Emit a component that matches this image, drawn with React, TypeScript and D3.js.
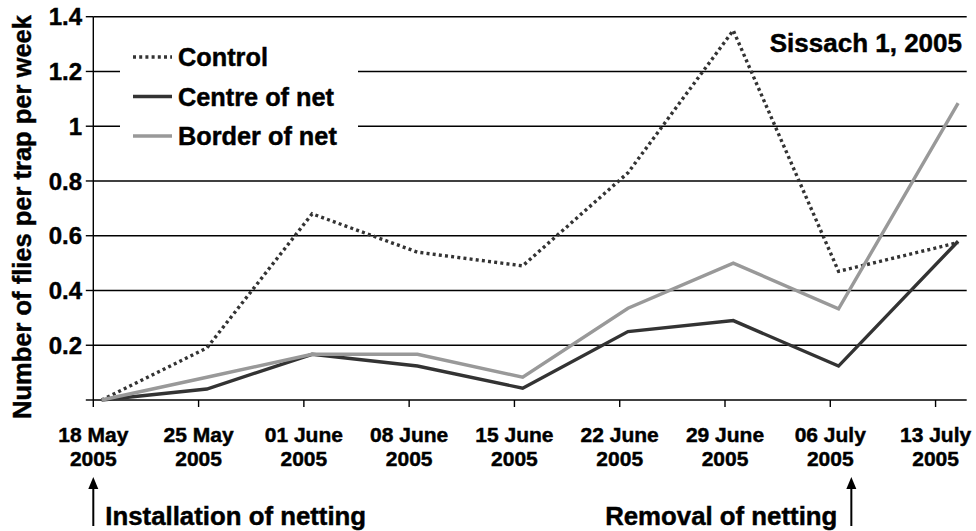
import React from "react";
import * as d3 from "d3";

const tickLabels = [
  ["18 May", "2005"],
  ["25 May", "2005"],
  ["01 June", "2005"],
  ["08 June", "2005"],
  ["15 June", "2005"],
  ["22 June", "2005"],
  ["29 June", "2005"],
  ["06 July", "2005"],
  ["13 July", "2005"],
];
// tick days since 18 May 2005
const tickDays = [0, 7, 14, 21, 28, 35, 42, 49, 56];
// sampling day (days since 18 May 2005) for each point
const sampleDays = [0.55, 7.55, 14.55, 21.55, 28.55, 35.55, 42.55, 49.55, 57.5];

const control = [0, 0.19, 0.68, 0.54, 0.49, 0.83, 1.35, 0.47, 0.575];
const centre = [0, 0.04, 0.167, 0.124, 0.043, 0.25, 0.29, 0.124, 0.58];
const border = [0, 0.083, 0.167, 0.167, 0.083, 0.335, 0.5, 0.333, 1.084];

const yTicks = [0, 0.2, 0.4, 0.6, 0.8, 1.0, 1.2, 1.4];

const series = [
  { name: "Control", values: control, color: "#333333", dash: "3 3.2" },
  { name: "Centre of net", values: centre, color: "#333333", dash: null },
  { name: "Border of net", values: border, color: "#999999", dash: null },
];

const annotations = [
  { label: "Installation of netting", day: 0, side: "right" },
  { label: "Removal of netting", day: 50.4, side: "left" },
];

const FONT = "'Liberation Sans', Arial, sans-serif";

const T = (props: any) => (
  <text fontWeight={700} stroke="#000" strokeWidth={0.45} fill="#000" {...props} />
);

export default function App() {
  const W = 976;
  const H = 531;
  const left = 93.3;
  const right = 966.7;
  const top = 16.7;
  const bottom = 400;

  const x = d3.scaleLinear().domain([0, 58.07]).range([left, right]);
  const y = d3.scaleLinear().domain([0, 1.4]).range([bottom, top]);

  const line = d3
    .line<number>()
    .x((_, i) => x(sampleDays[i]))
    .y((d) => y(d));

  const fmt = (v: number) => (v === 0 ? "" : v === 1 ? "1" : d3.format(".1f")(v));

  const legendX = 133;
  const legendRows = [57, 96.5, 136];

  return (
    <svg
      width={W}
      height={H}
      style={{ position: "absolute", left: 0, top: 0, background: "#fff" }}
      fontFamily={FONT}
    >
      {/* gridlines */}
      {yTicks.filter((t) => t > 0).map((t) => (
        <line key={t} x1={left} x2={right} y1={y(t)} y2={y(t)} stroke="#000" strokeWidth={1.4} />
      ))}
      {/* legend background */}
      <rect x={120} y={29} width={238} height={140} fill="#fff" />
      {/* axes */}
      <line x1={left} x2={left} y1={top} y2={bottom} stroke="#000" strokeWidth={1.4} />
      <line x1={left} x2={right} y1={bottom} y2={bottom} stroke="#000" strokeWidth={1.4} />
      {yTicks.map((t) => (
        <g key={"yt" + t}>
          <line x1={left - 7.5} x2={left} y1={y(t)} y2={y(t)} stroke="#000" strokeWidth={1.4} />
          <T x={82} y={y(t)} dy="0.36em" textAnchor="end" fontSize={24}>
            {fmt(t)}
          </T>
        </g>
      ))}
      {tickDays.map((d, i) => (
        <g key={"xt" + i}>
          <line x1={x(d)} x2={x(d)} y1={bottom} y2={bottom + 7} stroke="#000" strokeWidth={1.4} />
          <T x={x(d)} y={441.5} textAnchor="middle" fontSize={21}>
            {tickLabels[i][0]}
          </T>
          <T x={x(d)} y={466} textAnchor="middle" fontSize={21}>
            {tickLabels[i][1]}
          </T>
        </g>
      ))}
      {/* series */}
      {series.map((s) => (
        <path
          key={s.name}
          d={line(s.values) || ""}
          fill="none"
          stroke={s.color}
          strokeWidth={3.4}
          strokeDasharray={s.dash || undefined}
          strokeLinejoin="miter"
        />
      ))}
      {/* legend */}
      {series.map((s, i) => (
        <g key={"lg" + s.name}>
          <line
            x1={legendX}
            x2={legendX + 39}
            y1={legendRows[i]}
            y2={legendRows[i]}
            stroke={s.color}
            strokeWidth={3.4}
            strokeDasharray={s.dash || undefined}
          />
          <T x={178} y={legendRows[i]} dy="0.36em" fontSize={25.3}>
            {s.name}
          </T>
        </g>
      ))}
      {/* title */}
      <T x={962} y={51.7} textAnchor="end" fontSize={26}>
        Sissach 1, 2005
      </T>
      {/* y label */}
      <T transform={`translate(31,217) rotate(-90)`} textAnchor="middle" fontSize={25.5}>
        Number of flies per trap per week
      </T>
      {/* annotations */}
      {annotations.map((a) => {
        const ax = x(a.day);
        const tip = 477;
        const base = 526;
        return (
          <g key={a.label}>
            <line x1={ax} x2={ax} y1={base} y2={tip + 10} stroke="#000" strokeWidth={2} />
            <path d={`M${ax - 5},${tip + 12} L${ax},${tip} L${ax + 5},${tip + 12} Z`} fill="#000" />
            <T
              x={a.side === "right" ? ax + 12 : ax - 14}
              y={524.5}
              textAnchor={a.side === "right" ? "start" : "end"}
              fontSize={25.8}
            >
              {a.label}
            </T>
          </g>
        );
      })}
    </svg>
  );
}
